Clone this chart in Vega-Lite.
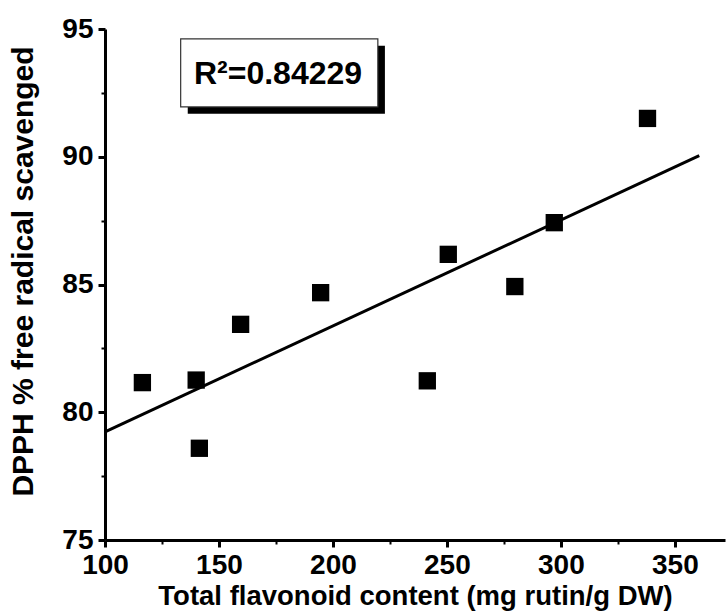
{
  "$schema": "https://vega.github.io/schema/vega-lite/v6.json",
  "width": 620,
  "height": 511,
  "autosize": {"type": "none"},
  "padding": {"left": 105, "top": 29, "right": 1, "bottom": 72},
  "background": "white",
  "config": {"view": {"stroke": null}, "font": "Liberation Sans"},
  "datasets": {
    "pts": [
      {"tfc": 116.4, "dpph": 81.16},
      {"tfc": 140.0, "dpph": 81.26},
      {"tfc": 141.4, "dpph": 78.59},
      {"tfc": 159.5, "dpph": 83.44},
      {"tfc": 194.6, "dpph": 84.68},
      {"tfc": 241.4, "dpph": 81.23},
      {"tfc": 250.6, "dpph": 86.18},
      {"tfc": 279.8, "dpph": 84.92},
      {"tfc": 297.1, "dpph": 87.42},
      {"tfc": 338.0, "dpph": 91.50}
    ]
  },
  "layer": [
    {
      "data": {"name": "pts"},
      "mark": {"type": "point", "shape": "square", "filled": true, "color": "black", "size": 300, "opacity": 1},
      "encoding": {
        "x": {
          "field": "tfc", "type": "quantitative",
          "scale": {"domain": [100, 372], "nice": false, "zero": false},
          "axis": {
            "title": "Total flavonoid content (mg rutin/g DW)",
            "values": [100, 125, 150, 175, 200, 225, 250, 275, 300, 325, 350],
            "format": "d",
            "labelExpr": "datum.value % 50 === 0 ? datum.label : ''",
            "grid": false,
            "domainColor": "black", "domainWidth": 3,
            "tickColor": "black",
            "tickWidth": {"condition": {"test": "datum.value % 50 === 0", "value": 3}, "value": 2},
            "tickSize": {"condition": {"test": "datum.value % 50 === 0", "value": 7}, "value": 4},
            "labelFont": "Liberation Sans", "labelFontSize": 28, "labelFontWeight": "bold", "labelColor": "black",
            "labelPadding": 4, "labelOverlap": false, "labelFlush": false,
            "titleFont": "Liberation Sans", "titleFontSize": 27.5, "titleFontWeight": "bold", "titleColor": "black",
            "titlePadding": 3
          }
        },
        "y": {
          "field": "dpph", "type": "quantitative",
          "scale": {"domain": [75, 95], "nice": false, "zero": false},
          "axis": {
            "title": "DPPH % free radical scavenged",
            "values": [75, 77.5, 80, 82.5, 85, 87.5, 90, 92.5, 95],
            "format": "d",
            "labelExpr": "datum.value % 5 === 0 ? datum.label : ''",
            "grid": false,
            "domainColor": "black", "domainWidth": 3,
            "tickColor": "black",
            "tickWidth": {"condition": {"test": "datum.value % 5 === 0", "value": 3}, "value": 2},
            "tickSize": {"condition": {"test": "datum.value % 5 === 0", "value": 7}, "value": 4},
            "labelFont": "Liberation Sans", "labelFontSize": 28, "labelFontWeight": "bold", "labelColor": "black",
            "labelPadding": 5, "labelOverlap": false, "labelFlush": false,
            "titleFont": "Liberation Sans", "titleFontSize": 30, "titleFontWeight": "bold", "titleColor": "black",
            "titlePadding": 23, "titleY": 242
          }
        }
      }
    },
    {
      "data": {"name": "pts"},
      "transform": [{"regression": "dpph", "on": "tfc", "extent": [100, 360.7]}],
      "mark": {"type": "line", "color": "black", "strokeWidth": 3},
      "encoding": {
        "x": {"field": "tfc", "type": "quantitative"},
        "y": {"field": "dpph", "type": "quantitative"}
      }
    },
    {
      "data": {"values": [{}]},
      "mark": {"type": "rect", "color": "black"},
      "encoding": {
        "x": {"datum": 136.3, "type": "quantitative"},
        "x2": {"datum": 222.8},
        "y": {"datum": 94.34, "type": "quantitative"},
        "y2": {"datum": 91.68}
      }
    },
    {
      "data": {"values": [{}]},
      "mark": {"type": "rect", "fill": "white", "stroke": "#333333", "strokeWidth": 1.2},
      "encoding": {
        "x": {"datum": 133.2, "type": "quantitative"},
        "x2": {"datum": 219.7},
        "y": {"datum": 94.61, "type": "quantitative"},
        "y2": {"datum": 91.95}
      }
    },
    {
      "data": {"values": [{}]},
      "mark": {"type": "text", "text": "R²=0.84229", "font": "Liberation Sans", "fontSize": 32, "fontWeight": "bold", "color": "black", "align": "center", "baseline": "alphabetic"},
      "encoding": {
        "x": {"datum": 175.9, "type": "quantitative"},
        "y": {"datum": 92.85, "type": "quantitative"}
      }
    }
  ]
}
